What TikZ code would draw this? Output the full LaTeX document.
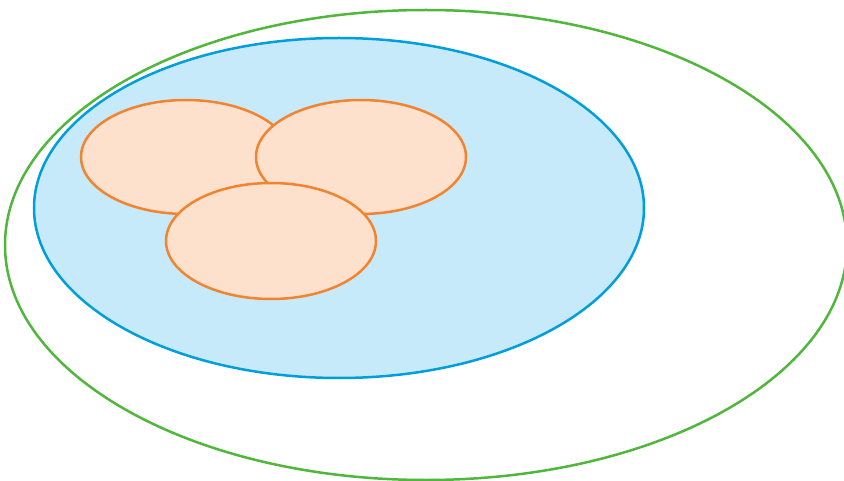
\documentclass[tikz,border=0pt]{standalone}
\usepackage{xcolor}
\usepackage{tikz}
\definecolor{mygreen}{RGB}{80,182,60}
\definecolor{myblue}{RGB}{0,158,220}
\definecolor{hdrblue}{RGB}{199,234,250}
\definecolor{myorange}{RGB}{242,132,48}
\definecolor{hdrorange}{RGB}{253,225,205}
\tikzset{
  outerset/.style={draw=mygreen, line width=2.5pt},
  innerset/.style={draw=myblue, fill=hdrblue, line width=2.5pt},
  subset/.style={draw=myorange, fill=hdrorange, line width=2.5pt}
}
\begin{document}
\begin{tikzpicture}[x=1pt, y=-1pt]
  \useasboundingbox (0,0) rectangle (844,481);
  \clip (0,0) rectangle (844,481);
  \draw[outerset] (426,245) ellipse [x radius=421, y radius=235];
  \draw[innerset] (339,208) ellipse [x radius=305, y radius=170];
  % three overlapping subsets
  \draw[subset] (186,157) ellipse [x radius=105, y radius=57];
  \draw[subset] (361,157) ellipse [x radius=105, y radius=57];
  \draw[subset] (271,241) ellipse [x radius=105, y radius=58];
\end{tikzpicture}
\end{document}
